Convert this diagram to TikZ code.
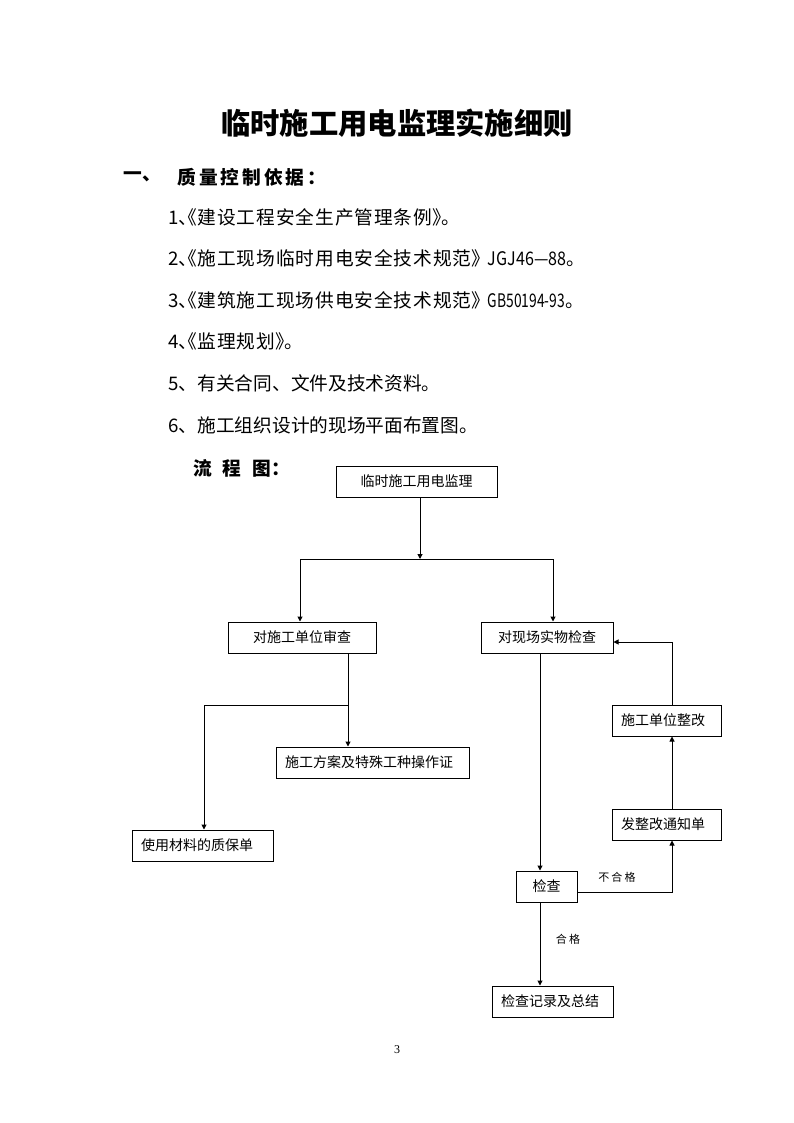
\documentclass[tikz,border=0pt]{standalone}
\usepackage{fontspec}
\setmainfont{Noto Sans CJK SC}
\newfontfamily\numfont{Liberation Serif}
\usetikzlibrary{arrows.meta}
\newcommand{\hw}[1]{\makebox[0.5em][l]{#1}}
\newcommand{\ob}{\makebox[0.5em][r]{《}}
\newcommand{\cb}{\makebox[0.5em][l]{》}}
\newcommand{\lat}[2]{\scalebox{#1}[1]{\addfontfeature{LetterSpace=0}#2}}
\begin{document}
\begin{tikzpicture}[x=1pt,y=-1pt,line width=1pt,
  box/.style={draw,line width=1pt,inner ysep=0pt,inner xsep=0pt,minimum height=31pt,align=center,font=\fontsize{14}{16}\selectfont},
  lbox/.style={draw,line width=1pt,inner ysep=0pt,inner xsep=9pt,minimum height=31pt,align=left,font=\fontsize{14}{16}\selectfont},
  arr/.style={-{Triangle[length=5pt,width=5pt]}},
  item/.style={anchor=west,inner sep=0pt,font=\fontsize{18.7}{22}\selectfont},
  itemw/.style={anchor=west,inner sep=0pt,font=\fontsize{18.7}{22}\selectfont\addfontfeature{LetterSpace=5}},
  head/.style={anchor=west,inner sep=0pt,font=\fontsize{18.7}{22}\selectfont\bfseries},
  lbl/.style={inner sep=0pt,font=\fontsize{11}{13}\selectfont\addfontfeature{LetterSpace=20}}]
\useasboundingbox (0,0) rectangle (794,1123);
\fill[white] (0,0) rectangle (794,1123);
% title and text
\node[inner sep=0pt,font=\fontsize{29.3}{34}\selectfont\bfseries] (title) at (397,123) {临时施工用电监理实施细则};
\node[head] (h1a) at (123,177) {一、};
\node[head,font=\fontsize{18.7}{22}\selectfont\bfseries\addfontfeature{LetterSpace=16}] (h1b) at (177,177) {质量控制依据：};
\node[itemw] (i1) at (168,217) {1\hw{、}\ob 建设工程安全生产管理条例\cb\hw{。}};
\node[itemw] (i2) at (168,258.6) {2\hw{、}\ob 施工现场临时用电安全技术规范\cb\hspace{7pt}\lat{0.86}{JGJ46—88}\hw{。}};
\node[itemw] (i3) at (168,300.2) {3\hw{、}\ob 建筑施工现场供电安全技术规范\cb\hspace{7pt}\lat{0.74}{GB50194-93}\hw{。}};
\node[itemw] (i4) at (168,341.8) {4\hw{、}\ob 监理规划\cb\hw{。}};
\node[item] (i5) at (168,383.4) {5、有关合同、文件及技术资料。};
\node[item] (i6) at (168,425) {6、施工组织设计的现场平面布置图。};
\node[head] (h2) at (193,468) {流\hspace{10.8pt}程\hspace{10.8pt}图：};
% boxes
\node[box,minimum width=161pt] (top) at (416.5,481.5) {临时施工用电监理};
\node[box,minimum width=148pt] (audit) at (302,637.5) {对施工单位审查};
\node[box,minimum width=132pt] (site) at (547,637.5) {对现场实物检查};
\node[lbox,text width=175pt] (plan) at (372.5,762.5) {施工方案及特殊工种操作证};
\node[lbox,text width=123pt] (mat) at (202.5,845.5) {使用材料的质保单};
\node[lbox,text width=91pt] (rect) at (666.5,720.5) {施工单位整改};
\node[lbox,text width=91pt] (notice) at (666.5,824.5) {发整改通知单};
\node[box,minimum width=61pt] (check) at (546.5,886.5) {检查};
\node[lbox,text width=103pt] (sum) at (552.5,1001.5) {检查记录及总结};
% connectors
\coordinate (j1) at (420,559);
\coordinate (jl) at (300,559);
\coordinate (jr) at (553,559);
\draw[arr] (j1 |- top.south) -- (j1);
\draw (jl) -- (jr);
\draw[arr] (jl) -- (jl |- audit.north);
\draw[arr] (jr) -- (jr |- site.north);
\coordinate (jb) at (348,705);
\coordinate (jm) at (204,705);
\draw (jb |- audit.south) -- (jb) -- (jm);
\draw[arr] (jb) -- (jb |- plan.north);
\draw[arr] (jm) -- (jm |- mat.north);
\coordinate (xs) at (540,0);
\coordinate (xf) at (672,0);
\coordinate (yc) at (0,892);
\coordinate (yf) at (0,642);
\draw[arr] (xs |- site.south) -- (xs |- check.north);
\draw[arr] (check.east |- yc) -| (xf |- notice.south);
\draw[arr] (xf |- notice.north) -- (xf |- rect.south);
\draw[arr] (xf |- rect.north) |- (site.east |- yf);
\draw[arr] (xs |- check.south) -- (xs |- sum.north);
\node[lbl] (ng) at (617,877) {不合格};
\node[lbl] (ok) at (568,939) {合格};
\node[inner sep=0pt,font=\numfont\fontsize{12}{14}\selectfont] (pg) at (397,1050) {3};
\end{tikzpicture}
\end{document}
